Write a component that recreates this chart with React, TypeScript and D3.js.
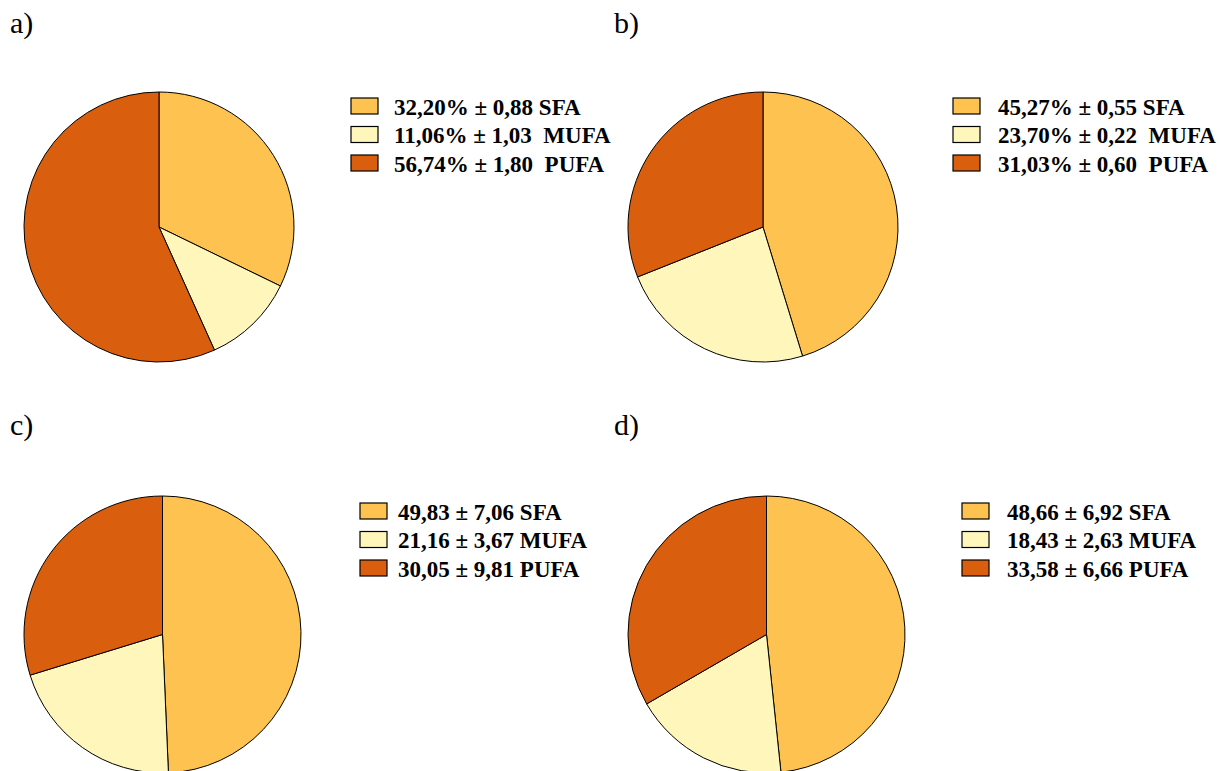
import React from "react";
import * as d3 from "d3";

const categories = ["SFA", "MUFA", "PUFA"];
const colors = ["#FEC250", "#FFF6BC", "#D95F0E"];

const valuesA = [32.2, 11.06, 56.74];
const valuesB = [45.27, 23.7, 31.03];
const valuesC = [49.83, 21.16, 30.05];
const valuesD = [48.66, 18.43, 33.58];

const labelsA = ["32,20% ± 0,88 SFA", "11,06% ± 1,03  MUFA", "56,74% ± 1,80  PUFA"];
const labelsB = ["45,27% ± 0,55 SFA", "23,70% ± 0,22  MUFA", "31,03% ± 0,60  PUFA"];
const labelsC = ["49,83 ± 7,06 SFA", "21,16 ± 3,67 MUFA", "30,05 ± 9,81 PUFA"];
const labelsD = ["48,66 ± 6,92 SFA", "18,43 ± 2,63 MUFA", "33,58 ± 6,66 PUFA"];

const panelTitles = ["a)", "b)", "c)", "d)"];

const panels = [
  { values: valuesA, labels: labelsA, title: panelTitles[0], tx: 10, ty: 33, cx: 159, cy: 227, r: 135, lx: 351, ly: 98, textX: 394 },
  { values: valuesB, labels: labelsB, title: panelTitles[1], tx: 614, ty: 33, cx: 763, cy: 227, r: 135, lx: 953, ly: 98, textX: 998 },
  { values: valuesC, labels: labelsC, title: panelTitles[2], tx: 10, ty: 435, cx: 162.5, cy: 634.5, r: 138.5, lx: 360, ly: 503, textX: 398 },
  { values: valuesD, labels: labelsD, title: panelTitles[3], tx: 614, ty: 435, cx: 766.5, cy: 634.5, r: 138.5, lx: 962, ly: 503, textX: 1007 },
];

function Panel({ p }: { p: any }) {
  const pie = d3.pie<number>().sort(null).value((d) => d);
  const arcs = pie(p.values);
  const arc = d3.arc<d3.PieArcDatum<number>>().innerRadius(0).outerRadius(p.r);
  return (
    <g>
      <text x={p.tx} y={p.ty} fontFamily="'Liberation Serif', 'Times New Roman', serif" fontSize={30}>
        {p.title}
      </text>
      <g transform={`translate(${p.cx},${p.cy})`}>
        {arcs.map((a, i) => (
          <path key={i} d={arc(a) || ""} fill={colors[i]} stroke="#000" strokeWidth={1} />
        ))}
      </g>
      {categories.map((c, i) => (
        <g key={c}>
          <rect x={p.lx} y={p.ly + i * 28.5} width={27} height={16} fill={colors[i]} stroke="#000" strokeWidth={1.2} />
          <text
            x={p.textX}
            y={p.ly + i * 28.5 + 16.5}
            fontFamily="'Liberation Serif', 'Times New Roman', serif"
            fontWeight="bold"
            fontSize={23}
            style={{ whiteSpace: "pre" }}
          >
            {p.labels[i]}
          </text>
        </g>
      ))}
    </g>
  );
}

export default function App() {
  return (
    <svg width={1220} height={771} style={{ position: "absolute", left: 0, top: 0, background: "#fff" }}>
      <rect x={0} y={0} width={1220} height={771} fill="#fff" />
      {panels.map((p, i) => (
        <Panel key={i} p={p} />
      ))}
    </svg>
  );
}
